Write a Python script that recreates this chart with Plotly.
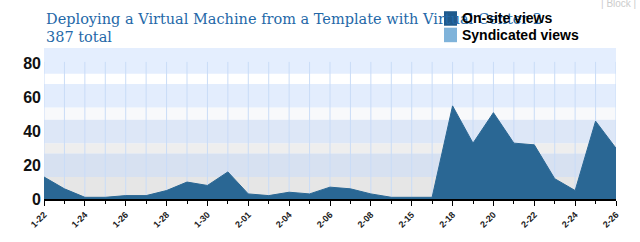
import plotly.graph_objects as go

dates = ["1-22", "1-23", "1-24", "1-25", "1-26", "1-27", "1-28", "1-29", "1-30", "1-31",
         "2-01", "2-02", "2-04", "2-05", "2-06", "2-07", "2-08", "2-09", "2-15", "2-17",
         "2-18", "2-19", "2-20", "2-21", "2-22", "2-23", "2-24", "2-25", "2-26"]
onsite = [13, 6, 1, 1, 2, 2, 5, 10, 8, 16,
          3, 2, 4, 3, 7, 6, 3, 1, 1, 1,
          55, 33, 51, 33, 32, 12, 5, 46, 30]
labeled = dates[::2]
title_text = "Deploying a Virtual Machine from a Template with Virtual Center 2"
total_text = "387 total"

fig = go.Figure()

fig.add_trace(go.Scatter(
    x=dates, y=onsite, mode="lines", fill="tozeroy",
    line=dict(color="#2a6794", width=1), fillcolor="#2a6794",
    name="On-site views", showlegend=False, hoverinfo="x+y"))

# background bands
bands = [(0, 13, "#e6e6e6"), (13, 27, "#d7e1f1"), (27, 33, "#eeeeee"), (33, 47, "#dde7f7"),
         (47, 54, "#f8f9fb"), (54, 68, "#e3edfd"), (68, 74, "#ffffff"), (74, 89.2, "#e4eefe")]
shapes = []
for y0, y1, c in bands:
    shapes.append(dict(type="rect", xref="paper", yref="y", x0=0, x1=1, y0=y0, y1=y1,
                       fillcolor=c, line=dict(width=0), layer="below"))
for d in dates:
    shapes.append(dict(type="line", xref="x", yref="y", x0=d, x1=d, y0=0, y1=81,
                       line=dict(color="#c9dcf7", width=1), layer="below"))

fig.update_layout(
    width=640, height=242,
    margin=dict(l=44, r=24, t=48, b=38),
    paper_bgcolor="white", plot_bgcolor="rgba(0,0,0,0)",
    shapes=shapes,
    showlegend=False,
    xaxis=dict(
        type="category", range=[0, len(dates) - 1],
        tickmode="array", tickvals=labeled, ticktext=labeled,
        tickangle=-45, tickfont=dict(family="Arial, Liberation Sans", size=9, color="#222", weight="bold"),
        ticks="outside", ticklen=5, tickcolor="black", tickwidth=1,
        minor=dict(ticks="outside", ticklen=3, tickcolor="black", dtick=1),
        showgrid=False, showline=True, linecolor="black", linewidth=2,
        zeroline=False, fixedrange=True),
    yaxis=dict(
        range=[0, 89.2], tickvals=[0, 20, 40, 60, 80],
        tickfont=dict(family="Arial, Liberation Sans", size=16, color="#111", weight="bold"),
        showgrid=False, zeroline=False, showline=False, ticks="", ticklabelstandoff=2,
        fixedrange=True),
    annotations=[
        dict(text=title_text, xref="paper", yref="paper", x=0, y=1, xanchor="left", yanchor="bottom",
             yshift=19, showarrow=False,
             font=dict(family="DejaVu Serif, Georgia, serif", size=14.5, color="#2468a8")),
        dict(text=total_text, xref="paper", yref="paper", x=0, y=1, xanchor="left", yanchor="bottom",
             yshift=1, showarrow=False,
             font=dict(family="DejaVu Serif, Georgia, serif", size=14.5, color="#2468a8")),
        dict(text="| Block |", xref="paper", yref="paper", x=1, y=1, xanchor="right", yanchor="top",
             xshift=22, yshift=52, showarrow=False,
             font=dict(family="Arial, Liberation Sans", size=10, color="#cccccc")),
    ],
)

# legend drawn as shapes + text in paper pixel terms
leg_items = [("On-site views", "#1f5a8c"), ("Syndicated views", "#7fb3da")]
for i, (lab, col) in enumerate(leg_items):
    ytop = 10 + i * 17
    fig.add_shape(type="rect", xref="paper", yref="paper",
                  x0=(444 - 44) / 572, x1=(457 - 44) / 572,
                  y0=(242 - 38 - (ytop + 15)) / 156, y1=(242 - 38 - ytop) / 156,
                  fillcolor=col, line=dict(width=0))
    fig.add_annotation(text="<b>" + lab + "</b>", xref="paper", yref="paper",
                       x=(460 - 44) / 572, y=(242 - 38 - ytop - 7.5) / 156,
                       xanchor="left", yanchor="middle", showarrow=False,
                       font=dict(family="Arial, Liberation Sans", size=14, color="black"))

fig.write_html("out.html")
